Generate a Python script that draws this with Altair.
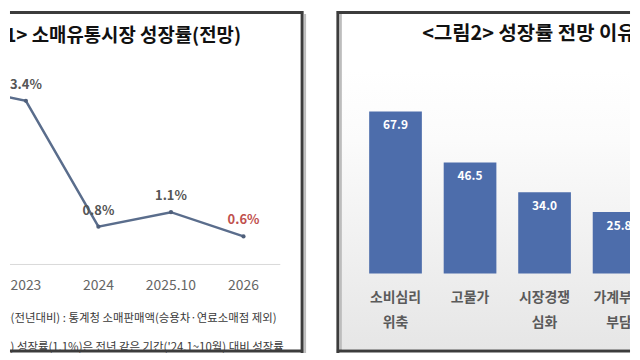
import altair as alt
import pandas as pd

FONT = "Noto Sans CJK KR"

# ---- left chart data ----
years = ["2022", "2023", "2024", "2025.10", "2026"]
growth = [3.7, 3.4, 0.8, 1.1, 0.6]
growth_labels = ["3.7%", "3.4%", "0.8%", "1.1%", "0.6%"]
left_title = "<그림1> 소매유통시장 성장률(전망)"
left_notes = [
    "률(전년대비) : 통계청 소매판매액(승용차·연료소매점 제외)",
    "월) 성장률(1.1%)은 전년 같은 기간('24.1~10월) 대비 성장률",
]

# ---- right chart data ----
reasons = ["소비심리\n위축", "고물가", "시장경쟁\n심화", "가계부채\n부담"]
shares = [67.9, 46.5, 34.0, 25.8]
right_title = "<그림2> 성장률 전망 이유"

df_left = pd.DataFrame({"year": years, "growth": growth, "label": growth_labels})
df_right = pd.DataFrame({"reason": reasons, "share": shares})
one = pd.DataFrame({"a": [0]})

LW, RW, H = 300, 324, 344
BORDER = "#3c3c3c"

# ================= LEFT PANEL =================
xl = alt.X("year:N", sort=years,
           scale=alt.Scale(type="point", domain=years, range=[-57, 235], padding=0), axis=None)
yl = alt.Y("growth:Q", scale=alt.Scale(domain=[0, 4], range=[256, 61]), axis=None)

base_l = alt.Chart(df_left)

left_rule = alt.Chart(one).mark_rule(color="#d9d9d9", strokeWidth=1).encode(
    x=alt.value(0), x2=alt.value(272), y=alt.value(255))
left_line = base_l.mark_line(color="#5a6d8c", strokeWidth=2.5, clip=True).encode(x=xl, y=yl)
left_pts = base_l.mark_circle(color="#4f5f7a", size=18, opacity=1, clip=True).encode(x=xl, y=yl)
left_lbl = base_l.mark_text(dy=-16, fontSize=13, fontWeight="bold", font=FONT, clip=True).encode(
    x=xl, y=yl, text="label:N",
    color=alt.condition(alt.datum.year == "2026", alt.value("#c0504d"), alt.value("#555555")))
left_xlab = base_l.mark_text(fontSize=14, color="#666666", font=FONT, clip=True).encode(
    x=xl, y=alt.value(277), text="year:N")
left_ttl = alt.Chart(one).mark_text(align="left", fontSize=19, fontWeight="bold", font=FONT,
                                    color="#111111", clip=True).encode(
    x=alt.value(-51), y=alt.value(25), text=alt.value(left_title))
left_n1 = alt.Chart(one).mark_text(align="left", fontSize=11.5, font=FONT, color="#3a3a3a",
                                   clip=True).encode(
    x=alt.value(-10), y=alt.value(310), text=alt.value(left_notes[0]))
left_n2 = alt.Chart(one).mark_text(align="left", fontSize=11.5, font=FONT, color="#3a3a3a",
                                   clip=True).encode(
    x=alt.value(-10), y=alt.value(339), text=alt.value(left_notes[1]))
lb_top = alt.Chart(one).mark_rule(color=BORDER, strokeWidth=3).encode(
    x=alt.value(0), x2=alt.value(295), y=alt.value(1.5))
lb_right = alt.Chart(one).mark_rule(color=BORDER, strokeWidth=3).encode(
    x=alt.value(294), y=alt.value(0), y2=alt.value(344))
lb_shadow = alt.Chart(one).mark_rule(color="#bdbdbd", strokeWidth=2).encode(
    x=alt.value(297), y=alt.value(3), y2=alt.value(344))
lb_bot = alt.Chart(one).mark_rule(color=BORDER, strokeWidth=3).encode(
    x=alt.value(0), x2=alt.value(295), y=alt.value(342))

left = alt.layer(left_rule, left_line, left_pts, left_lbl, left_xlab, left_ttl,
                 left_n1, left_n2, lb_top, lb_right, lb_shadow, lb_bot).properties(
    width=LW, height=H)

# ================= RIGHT PANEL =================
xr = alt.X("reason:N", sort=reasons,
           scale=alt.Scale(type="band", domain=reasons, range=[50.5, 350.5],
                           paddingInner=0.293, paddingOuter=0.1465), axis=None)
yr = alt.Y("share:Q", scale=alt.Scale(domain=[0, 100], range=[264, 24]), axis=None)

base_r = alt.Chart(df_right)

grad = alt.LinearGradient(gradient="linear", x1=0, x2=0, y1=0, y2=1, stops=[
    alt.GradientStop(color="#ffffff", offset=0),
    alt.GradientStop(color="#fbfbfb", offset=0.25),
    alt.GradientStop(color="#e6e6e6", offset=1)])
r_bg = alt.Chart(one).mark_rect(color=grad).encode(
    x=alt.value(33), x2=alt.value(324), y=alt.value(60), y2=alt.value(340))
r_bars = base_r.mark_bar(color="#4d6dab", clip=True).encode(x=xr, y=yr)
r_vals = base_r.mark_text(dy=14, fontSize=12, fontWeight="bold", color="white", font=FONT,
                          clip=True).encode(x=xr, y=yr, text=alt.Text("share:Q", format=".1f"))
r_xlab = base_r.mark_text(fontSize=14, fontWeight="bold", color="#5a5a5a", font=FONT,
                          lineBreak="\n", lineHeight=25, baseline="middle", clip=True).encode(
    x=xr, y=alt.value(289), text="reason:N")
r_ttl = alt.Chart(one).mark_text(align="left", fontSize=20, fontWeight="bold", font=FONT,
                                 color="#111111", clip=True).encode(
    x=alt.value(115), y=alt.value(23), text=alt.value(right_title))
rb_top = alt.Chart(one).mark_rule(color=BORDER, strokeWidth=3).encode(
    x=alt.value(29), x2=alt.value(324), y=alt.value(1.5))
rb_left = alt.Chart(one).mark_rule(color=BORDER, strokeWidth=3).encode(
    x=alt.value(30), y=alt.value(0), y2=alt.value(344))
rb_shadow = alt.Chart(one).mark_rule(color="#bdbdbd", strokeWidth=2).encode(
    x=alt.value(33), y=alt.value(3), y2=alt.value(341))
rb_bot = alt.Chart(one).mark_rule(color=BORDER, strokeWidth=3).encode(
    x=alt.value(29), x2=alt.value(324), y=alt.value(342))

right = alt.layer(r_bg, r_bars, r_vals, r_xlab, r_ttl, rb_top, rb_left, rb_shadow,
                  rb_bot).properties(width=RW, height=H)

chart = alt.hconcat(left, right, spacing=0).properties(
    padding=0, background="white"
).configure_view(strokeWidth=0)

chart.save("out.html", embed_options={"renderer": "svg", "actions": False})
